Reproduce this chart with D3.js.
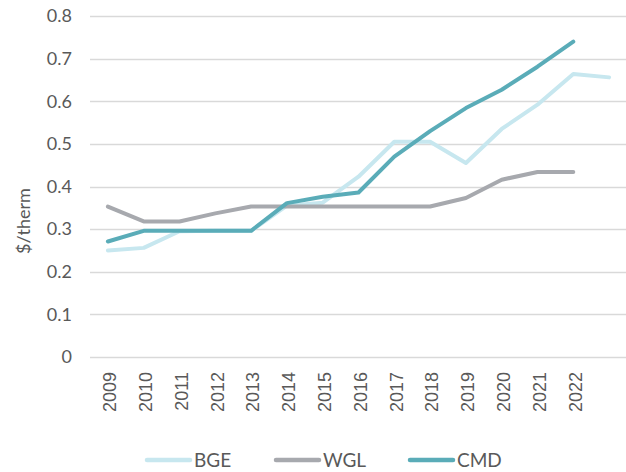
<!DOCTYPE html>
<html>
<head>
<meta charset="utf-8">
<script src="https://cdn.jsdelivr.net/npm/d3@7"></script>
<style>
  body { margin: 0; background: #fff; }
  text { font-family: Lato, "Open Sans", sans-serif; fill: #595959; }
</style>
</head>
<body>
<div id="my_dataviz"></div>
<script>
// data
var years = ["2009","2010","2011","2012","2013","2014","2015","2016","2017","2018","2019","2020","2021","2022",""];
var bge = [0.250, 0.256, 0.295, 0.296, 0.296, 0.355, 0.362, 0.423, 0.505, 0.505, 0.455, 0.535, 0.592, 0.664, 0.656];
var wgl = [0.353, 0.318, 0.318, 0.337, 0.353, 0.353, 0.353, 0.353, 0.353, 0.353, 0.373, 0.416, 0.434, 0.434];
var cmd = [0.271, 0.296, 0.296, 0.296, 0.296, 0.361, 0.376, 0.386, 0.470, 0.530, 0.584, 0.627, 0.681, 0.740];
var yTicks = [0, 0.1, 0.2, 0.3, 0.4, 0.5, 0.6, 0.7, 0.8];

var series = [
  {name: "BGE", values: bge, color: "#c7e7ef"},
  {name: "WGL", values: wgl, color: "#a7a9ae"},
  {name: "CMD", values: cmd, color: "#5aacb8"}
];

var width = 626, height = 472;

var svg = d3.select("#my_dataviz")
  .append("svg")
    .attr("width", width)
    .attr("height", height);

// scales
var x = d3.scaleBand()
  .domain(years.map(function(d, i) { return i; }))
  .range([90, 627]);

var y = d3.scaleLinear()
  .domain([0, 0.8])
  .range([357, 16]);

// gridlines
svg.append("g")
  .selectAll("line")
  .data(yTicks)
  .enter()
  .append("line")
    .attr("x1", 90)
    .attr("x2", 627)
    .attr("y1", function(d) { return Math.round(y(d)) + 0.5; })
    .attr("y2", function(d) { return Math.round(y(d)) + 0.5; })
    .attr("stroke", "#d9d9d9")
    .attr("stroke-width", 1.5);

// y axis
var yAxis = svg.append("g")
  .attr("transform", "translate(90,0)")
  .call(d3.axisLeft(y).tickValues(yTicks).tickSize(0).tickPadding(18)
    .tickFormat(function(d) { return d === 0 ? "0" : d3.format(".1f")(d); }));
yAxis.select(".domain").remove();
yAxis.selectAll("text")
  .style("font-family", "Lato, sans-serif")
  .style("font-size", "18px")
  .attr("fill", "#595959");

// x axis (rotated year labels)
var xAxis = svg.append("g")
  .attr("transform", "translate(0,357)")
  .call(d3.axisBottom(x).tickSize(0).tickFormat(function(i) { return years[i]; }));
xAxis.select(".domain").remove();
xAxis.selectAll("text")
  .attr("transform", "rotate(-90)")
  .attr("text-anchor", "end")
  .attr("x", -15)
  .attr("y", 2)
  .attr("dy", "0.35em")
  .style("font-family", "'Liberation Sans', Arial, sans-serif")
  .style("font-size", "18px")
  .attr("fill", "#595959");

// y label
svg.append("text")
  .attr("transform", "translate(30,221) rotate(-90)")
  .attr("text-anchor", "middle")
  .style("font-size", "18px")
  .text("$/therm");

// lines
var line = d3.line()
  .x(function(d, i) { return x(i) + x.bandwidth() / 2; })
  .y(function(d) { return y(d); });

svg.append("g")
  .selectAll("path")
  .data(series)
  .enter()
  .append("path")
    .attr("d", function(d) { return line(d.values); })
    .attr("fill", "none")
    .attr("stroke", function(d) { return d.color; })
    .attr("stroke-width", 4)
    .attr("stroke-linecap", "round")
    .attr("stroke-linejoin", "round");

// legend
var legendX = [147, 276, 410];
var legend = svg.append("g")
  .selectAll("g")
  .data(series)
  .enter()
  .append("g")
    .attr("transform", function(d, i) { return "translate(" + legendX[i] + ",460)"; });
legend.append("line")
  .attr("x1", 0).attr("x2", 43)
  .attr("stroke", function(d) { return d.color; })
  .attr("stroke-width", 4.5)
  .attr("stroke-linecap", "round");
legend.append("text")
  .attr("x", 47)
  .attr("dy", "0.36em")
  .style("font-size", "19px")
  .text(function(d) { return d.name; });
</script>
</body>
</html>
